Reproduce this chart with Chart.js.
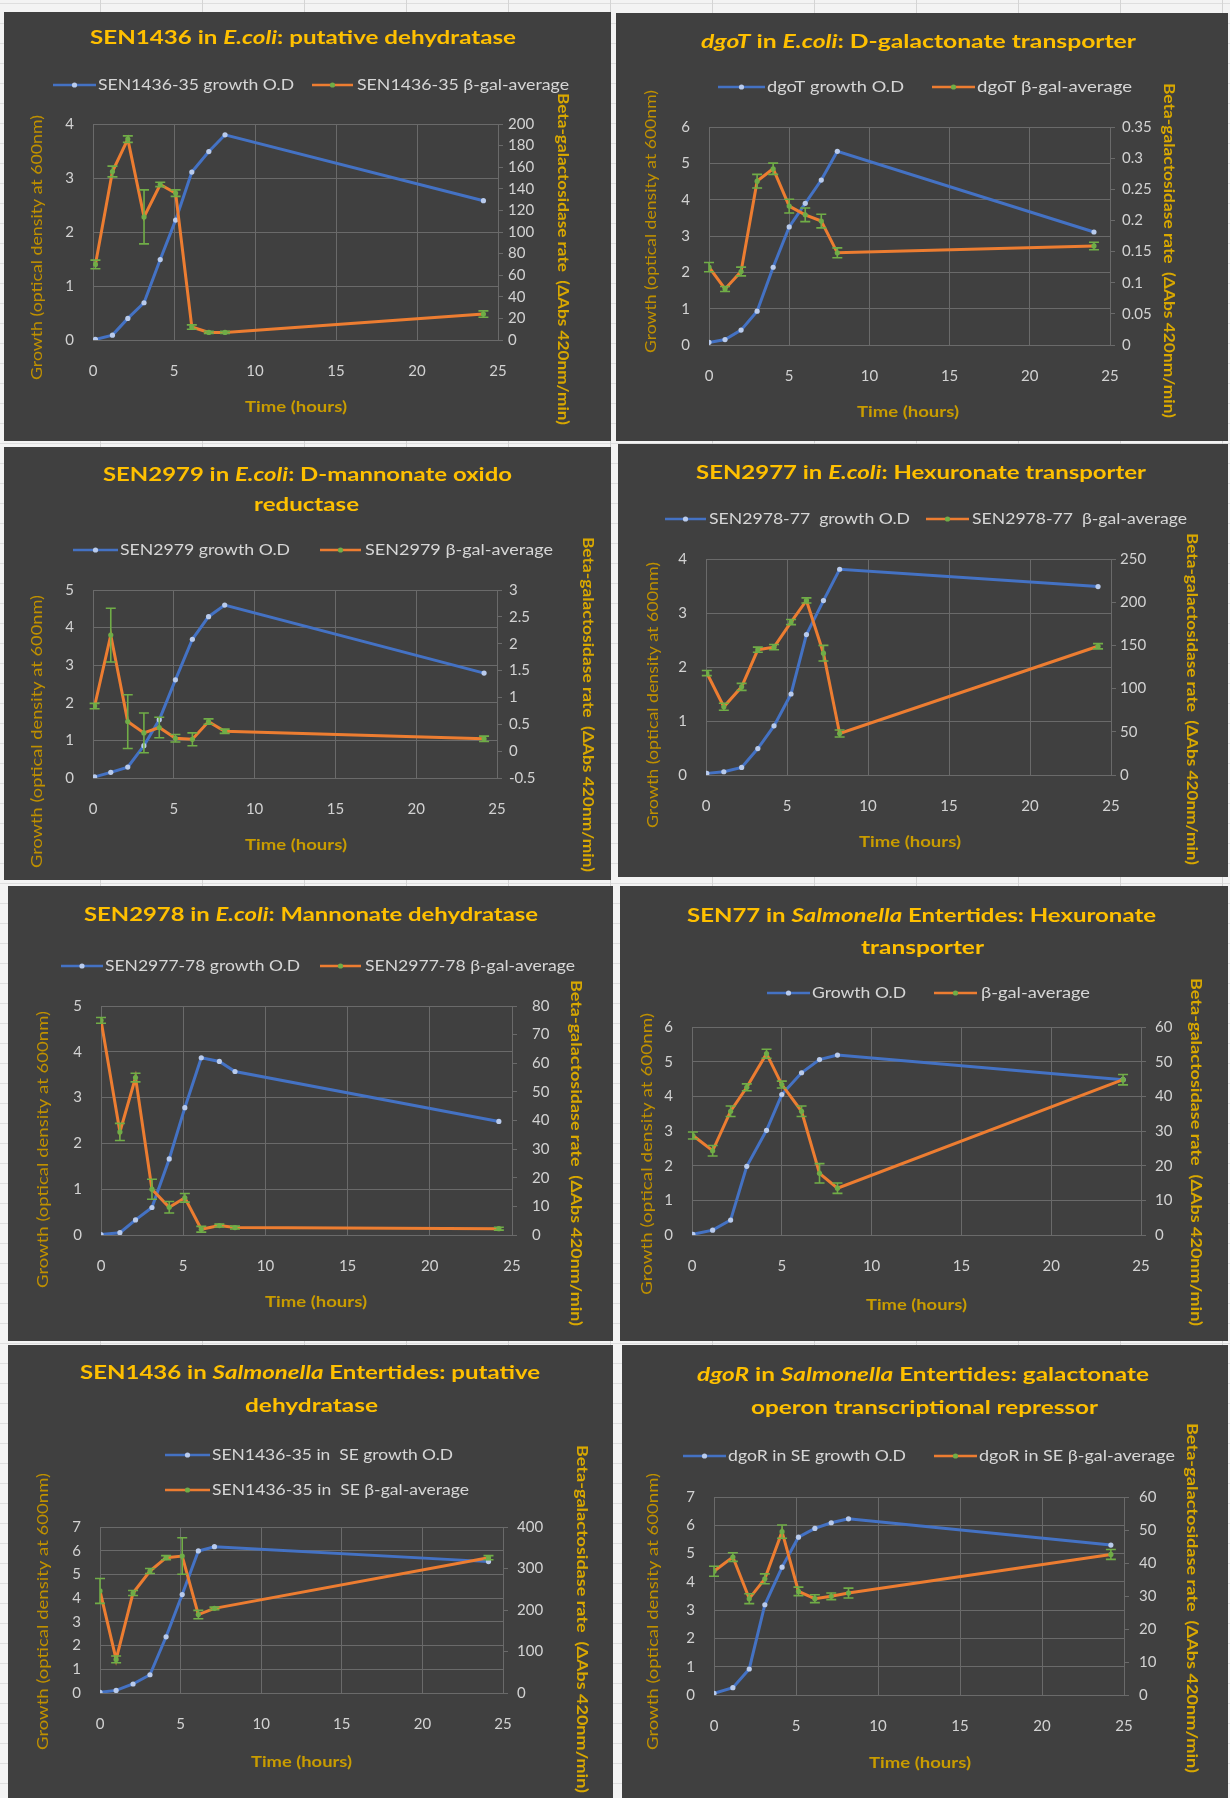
<!DOCTYPE html>
<html>
<head>
<meta charset="utf-8">
<title>Growth and β-galactosidase activity time courses</title>
<script src="https://cdn.jsdelivr.net/npm/chart.js@4.4.1/dist/chart.umd.min.js"></script>
<style>
  html, body { margin: 0; padding: 0; }
  body {
    width: 1230px; height: 1798px; position: relative; overflow: hidden;
    background-color: #f3f3f3;
    background-image:
      linear-gradient(to right, #d4d4d4 1px, transparent 1px),
      linear-gradient(to bottom, #dedede 1px, transparent 1px);
    background-size: 102px 100%, 100% 20px;
    background-position: 100px 0, 0 3px;
  }
  .panel { position: absolute; background: #404040; }
  .panel canvas { display: block; }
</style>
</head>
<body>
<script>
// ---------------- data ----------------
// Sampling times (hours) per strain
const p1Hours = [0.15, 1.2, 2.15, 3.15, 4.15, 5.1, 6.1, 7.15, 8.15, 24.1];
const p2Hours = [0, 1, 2, 3, 4, 5, 6, 7, 8, 24];
const p3Hours = [0.1, 1.1, 2.15, 3.15, 4.1, 5.1, 6.15, 7.15, 8.15, 24.2];
const p4Hours = [0.05, 1.1, 2.2, 3.2, 4.2, 5.25, 6.2, 7.25, 8.25, 24.2];
const p5Hours = [0, 1.15, 2.1, 3.1, 4.15, 5.1, 6.1, 7.2, 8.15, 24.2];
const p6Hours = [0.05, 1.15, 2.15, 3.05, 4.15, 5, 6.1, 7.1, 8.1, 24];
const p7Hours = [0, 1, 2.05, 3.1, 4.1, 5.1, 6.1, 7.1, 24.1];
const p8Hours = [0, 1.15, 2.15, 3.1, 4.15, 5.15, 6.15, 7.15, 8.2, 24.2];

// Growth, OD600
const p1Growth = [0.01, 0.09, 0.40, 0.69, 1.49, 2.22, 3.11, 3.49, 3.80, 2.58];
const p2Growth = [0.07, 0.15, 0.41, 0.93, 2.14, 3.25, 3.90, 4.54, 5.33, 3.11];
const p3Growth = [0.03, 0.15, 0.29, 0.86, 1.55, 2.61, 3.69, 4.29, 4.60, 2.79];
const p4Growth = [0.03, 0.06, 0.14, 0.49, 0.91, 1.50, 2.60, 3.23, 3.81, 3.49];
const p5Growth = [0.01, 0.05, 0.33, 0.60, 1.66, 2.78, 3.87, 3.79, 3.57, 2.48];
const p6Growth = [0.02, 0.14, 0.43, 1.98, 3.02, 4.05, 4.68, 5.06, 5.19, 4.48];
const p7Growth = [0.03, 0.11, 0.38, 0.77, 2.37, 4.15, 5.99, 6.17, 5.54];
const p8Growth = [0.06, 0.26, 0.92, 3.19, 4.52, 5.58, 5.89, 6.09, 6.23, 5.30];

// β-galactosidase rate averages and their error bars (ΔAbs 420nm/min)
const p1Gal = [70, 156, 186, 114, 144, 136, 12, 7, 7, 24];
const p1GalErr = [4, 5, 3, 25, 2, 3, 2, 1, 1, 3];
const p2Gal = [0.125, 0.090, 0.118, 0.263, 0.283, 0.223, 0.209, 0.199, 0.148, 0.159];
const p2GalErr = [0.0075, 0.004, 0.007, 0.011, 0.009, 0.011, 0.011, 0.011, 0.008, 0.006];
const p3Gal = [0.84, 2.16, 0.55, 0.34, 0.44, 0.24, 0.22, 0.55, 0.37, 0.23];
const p3GalErr = [0.05, 0.5, 0.5, 0.37, 0.19, 0.07, 0.12, 0.05, 0.04, 0.05];
const p4Gal = [118, 79, 102, 145, 148, 177, 202, 141, 48, 149];
const p4GalErr = [3, 4, 4, 3, 3, 3, 3, 9, 4, 3];
const p5Gal = [75, 36, 55, 16, 9.7, 13, 2.0, 3.3, 2.6, 2.2];
const p5GalErr = [1, 3, 1.5, 3.5, 2, 1.5, 1, 0.5, 0.5, 0.5];
const p6Gal = [28.7, 24.3, 35.7, 42.6, 52.3, 43.4, 35.7, 17.8, 13.5, 44.8];
const p6GalErr = [1, 1.5, 1.5, 1, 1.3, 1, 1.5, 2.8, 1.5, 1.5];
const p7Gal = [246, 81, 241, 294, 326, 330, 189, 204, 326];
const p7GalErr = [30, 8, 6, 6, 5, 44, 10, 3, 5];
const p8Gal = [37.5, 41.8, 29.2, 35.2, 49.5, 31.4, 29.2, 29.9, 30.9, 42.6];
const p8GalErr = [1.5, 1.3, 1.5, 1.5, 2, 1.3, 1.2, 1, 1.5, 1.5];

// Axis ranges [min, max, step]
const timeAxis = [0, 25, 5];
const p1Axes = { growth: [0, 4, 1], gal: [0, 200, 20] };
const p2Axes = { growth: [0, 6, 1], gal: [0, 0.35, 0.05] };
const p3Axes = { growth: [0, 5, 1], gal: [-0.5, 3, 0.5] };
const p4Axes = { growth: [0, 4, 1], gal: [0, 250, 50] };
const p5Axes = { growth: [0, 5, 1], gal: [0, 80, 10] };
const p6Axes = { growth: [0, 6, 1], gal: [0, 60, 10] };
const p7Axes = { growth: [0, 7, 1], gal: [0, 400, 100] };
const p8Axes = { growth: [0, 7, 1], gal: [0, 60, 10] };

// Titles (text between underscores is set in italics) and legend labels
const p1Title = ['SEN1436 in _E.coli_: putative dehydratase'];
const p2Title = ['_dgoT_ in _E.coli_: D-galactonate transporter'];
const p3Title = ['SEN2979 in _E.coli_: D-mannonate oxido', 'reductase'];
const p4Title = ['SEN2977 in _E.coli_: Hexuronate transporter'];
const p5Title = ['SEN2978 in _E.coli_: Mannonate dehydratase'];
const p6Title = ['SEN77 in _Salmonella_ Entertides: Hexuronate', 'transporter'];
const p7Title = ['SEN1436 in _Salmonella_ Entertides: putative', 'dehydratase'];
const p8Title = ['_dgoR_ in _Salmonella_ Entertides: galactonate', 'operon transcriptional repressor'];

const p1Legend = ['SEN1436-35 growth O.D', 'SEN1436-35 β-gal-average'];
const p2Legend = ['dgoT growth O.D', 'dgoT β-gal-average'];
const p3Legend = ['SEN2979 growth O.D', 'SEN2979 β-gal-average'];
const p4Legend = ['SEN2978-77  growth O.D', 'SEN2978-77  β-gal-average'];
const p5Legend = ['SEN2977-78 growth O.D', 'SEN2977-78 β-gal-average'];
const p6Legend = ['Growth O.D', 'β-gal-average'];
const p7Legend = ['SEN1436-35 in  SE growth O.D', 'SEN1436-35 in  SE β-gal-average'];
const p8Legend = ['dgoR in SE growth O.D', 'dgoR in SE β-gal-average'];

const xTitle = 'Time (hours)';
const leftTitle = 'Growth (optical density at 600nm)';
const rightTitle = 'Beta-galactosidase rate  (ΔAbs 420nm/min)';

// ---------------- page layout (page pixels) ----------------
const layouts = [
  { box: [4, 12, 611, 441], plot: [93, 124, 498, 340], rpad: 10,
    titleLines: [{ y: 38, x0: 90, x1: 516 }],
    legend: [{ y: 85, l: [53, 96], t: [98, 294] }, { y: 85, l: [312, 353], t: [357, 569] }],
    leftT: { x: 37, y0: 115, y1: 380 }, rightT: { x: 563, y0: 93, y1: 425 }, xT: { y: 407, x0: 245, x1: 347 } },
  { box: [616, 13, 1228, 441], plot: [709, 127, 1110, 345], rpad: 12,
    titleLines: [{ y: 42, x0: 701, x1: 1136 }],
    legend: [{ y: 87, l: [718, 765], t: [767, 904] }, { y: 87, l: [932, 975], t: [977, 1132] }],
    leftT: { x: 651, y0: 90, y1: 353 }, rightT: { x: 1169, y0: 83, y1: 418 }, xT: { y: 412, x0: 857, x1: 959 } },
  { box: [4, 447, 611, 880], plot: [93, 590, 497, 778], rpad: 12,
    titleLines: [{ y: 475, x0: 103, x1: 512 }, { y: 505, x0: 254, x1: 359 }],
    legend: [{ y: 550, l: [73, 118], t: [120, 290] }, { y: 550, l: [320, 361], t: [365, 553] }],
    leftT: { x: 37, y0: 595, y1: 868 }, rightT: { x: 588, y0: 537, y1: 872 }, xT: { y: 845, x0: 245, x1: 347 } },
  { box: [618, 444, 1228, 877], plot: [706, 559, 1111, 775], rpad: 9,
    titleLines: [{ y: 473, x0: 696, x1: 1146 }],
    legend: [{ y: 519, l: [665, 706], t: [709, 910] }, { y: 519, l: [926, 969], t: [972, 1187] }],
    leftT: { x: 653, y0: 562, y1: 828 }, rightT: { x: 1192, y0: 533, y1: 865 }, xT: { y: 842, x0: 859, x1: 961 } },
  { box: [8, 886, 613, 1341], plot: [101, 1006, 512, 1235], rpad: 20,
    titleLines: [{ y: 915, x0: 84, x1: 538 }],
    legend: [{ y: 966, l: [61, 103], t: [105, 300] }, { y: 966, l: [320, 361], t: [365, 575] }],
    leftT: { x: 43, y0: 1011, y1: 1288 }, rightT: { x: 576, y0: 980, y1: 1326 }, xT: { y: 1302, x0: 265, x1: 367 } },
  { box: [620, 886, 1228, 1341], plot: [692, 1027, 1141, 1235], rpad: 14,
    titleLines: [{ y: 916, x0: 687, x1: 1156 }, { y: 948, x0: 861, x1: 984 }],
    legend: [{ y: 993, l: [767, 810], t: [812, 906] }, { y: 993, l: [934, 977], t: [981, 1090] }],
    leftT: { x: 647, y0: 1013, y1: 1295 }, rightT: { x: 1196, y0: 978, y1: 1326 }, xT: { y: 1305, x0: 866, x1: 967 } },
  { box: [8, 1345, 613, 1798], plot: [100, 1527, 503, 1693], rpad: 14,
    titleLines: [{ y: 1373, x0: 80, x1: 540 }, { y: 1406, x0: 245, x1: 378 }],
    legend: [{ y: 1455, l: [165, 210], t: [212, 453] }, { y: 1490, l: [165, 210], t: [212, 469] }],
    leftT: { x: 43, y0: 1473, y1: 1750 }, rightT: { x: 582, y0: 1445, y1: 1793 }, xT: { y: 1762, x0: 251, x1: 352 } },
  { box: [622, 1345, 1228, 1798], plot: [714, 1497, 1124, 1695], rpad: 15,
    titleLines: [{ y: 1375, x0: 697, x1: 1149 }, { y: 1408, x0: 751, x1: 1098 }],
    legend: [{ y: 1456, l: [683, 726], t: [728, 906] }, { y: 1456, l: [934, 977], t: [979, 1175] }],
    leftT: { x: 653, y0: 1473, y1: 1750 }, rightT: { x: 1192, y0: 1423, y1: 1773 }, xT: { y: 1763, x0: 869, x1: 971 } }
];

const series = [
  { hours: p1Hours, growth: p1Growth, gal: p1Gal, err: p1GalErr, axes: p1Axes, title: p1Title, legend: p1Legend },
  { hours: p2Hours, growth: p2Growth, gal: p2Gal, err: p2GalErr, axes: p2Axes, title: p2Title, legend: p2Legend },
  { hours: p3Hours, growth: p3Growth, gal: p3Gal, err: p3GalErr, axes: p3Axes, title: p3Title, legend: p3Legend },
  { hours: p4Hours, growth: p4Growth, gal: p4Gal, err: p4GalErr, axes: p4Axes, title: p4Title, legend: p4Legend },
  { hours: p5Hours, growth: p5Growth, gal: p5Gal, err: p5GalErr, axes: p5Axes, title: p5Title, legend: p5Legend },
  { hours: p6Hours, growth: p6Growth, gal: p6Gal, err: p6GalErr, axes: p6Axes, title: p6Title, legend: p6Legend },
  { hours: p7Hours, growth: p7Growth, gal: p7Gal, err: p7GalErr, axes: p7Axes, title: p7Title, legend: p7Legend },
  { hours: p8Hours, growth: p8Growth, gal: p8Gal, err: p8GalErr, axes: p8Axes, title: p8Title, legend: p8Legend }
];

// ---------------- styles ----------------
const BLUE = '#4472C4';
const BLUE_MARK = '#b9cbec';
const ORANGE = '#ED7D31';
const GREEN = '#70AD47';
const GRID = '#6a6a6a';
const TICK = '#d2d2d2';
const FAMILY = 'Lato, "Open Sans", "DejaVu Sans", sans-serif';

// ---------------- helpers ----------------
// Plain number labels without trailing zeros (0.3, 0.35, 2.5, -0.5)
const plainNumber = v => String(parseFloat(Number(v).toFixed(4)));

// Splits "a _b_ c" into plain / italic runs
function richRuns(str) {
  return str.split('_').map((t, i) => ({ t, it: i % 2 === 1 })).filter(r => r.t.length);
}

// Draws a (possibly rich) string centred at cx,cy, stretched horizontally to a given length
function fitText(ctx, str, font, color, cx, cy, len, rot) {
  const runs = richRuns(str);
  let w = 0;
  runs.forEach(r => { ctx.font = (r.it ? 'italic ' : '') + font; r.w = ctx.measureText(r.t).width; w += r.w; });
  ctx.save();
  ctx.translate(cx, cy);
  if (rot) ctx.rotate(rot);
  ctx.scale(len ? len / w : 1, 1);
  ctx.fillStyle = color;
  ctx.textBaseline = 'middle';
  ctx.textAlign = 'left';
  let x = -w / 2;
  runs.forEach(r => { ctx.font = (r.it ? 'italic ' : '') + font; ctx.fillText(r.t, x, 0); x += r.w; });
  ctx.restore();
}

// Vertical error bars with caps on any dataset carrying an errorBars array
const errorBarPlugin = {
  id: 'errorBars',
  afterDatasetDraw(chart, args) {
    const ds = chart.data.datasets[args.index];
    if (!ds.errorBars) return;
    const ys = chart.scales[ds.yAxisID];
    const ctx = chart.ctx;
    ctx.save();
    ctx.strokeStyle = GREEN;
    ctx.lineWidth = 1.6;
    args.meta.data.forEach((pt, i) => {
      const v = ds.data[i].y, e = ds.errorBars[i];
      const yTop = ys.getPixelForValue(v + e), yBot = ys.getPixelForValue(v - e);
      ctx.beginPath();
      ctx.moveTo(pt.x, yTop); ctx.lineTo(pt.x, yBot);
      ctx.moveTo(pt.x - 5, yTop); ctx.lineTo(pt.x + 5, yTop);
      ctx.moveTo(pt.x - 5, yBot); ctx.lineTo(pt.x + 5, yBot);
      ctx.stroke();
    });
    ctx.restore();
  }
};

// Chart title, legend and axis titles
function panelTextPlugin(lay, s) {
  const ox = lay.box[0], oy = lay.box[1];
  return {
    id: 'panelText',
    afterDraw(chart) {
      const ctx = chart.ctx;
      s.title.forEach((line, i) => {
        const tl = lay.titleLines[i];
        fitText(ctx, line, 'bold 19px ' + FAMILY, '#FFC000', (tl.x0 + tl.x1) / 2 - ox, tl.y - oy, tl.x1 - tl.x0, 0);
      });
      lay.legend.forEach((lg, i) => {
        const y = lg.y - oy;
        const col = i === 0 ? BLUE : ORANGE;
        const mk = i === 0 ? BLUE_MARK : GREEN;
        ctx.save();
        ctx.strokeStyle = col; ctx.lineWidth = 2.5;
        ctx.beginPath(); ctx.moveTo(lg.l[0] - ox, y); ctx.lineTo(lg.l[1] - ox, y); ctx.stroke();
        ctx.fillStyle = mk;
        ctx.beginPath(); ctx.arc((lg.l[0] + lg.l[1]) / 2 - ox, y, 2.6, 0, Math.PI * 2); ctx.fill();
        ctx.restore();
        fitText(ctx, s.legend[i], '15px ' + FAMILY, '#d6d6d6', (lg.t[0] + lg.t[1]) / 2 - ox, y, lg.t[1] - lg.t[0], 0);
      });
      fitText(ctx, leftTitle, '15px ' + FAMILY, '#BF9000', lay.leftT.x - ox, (lay.leftT.y0 + lay.leftT.y1) / 2 - oy,
        lay.leftT.y1 - lay.leftT.y0, -Math.PI / 2);
      fitText(ctx, rightTitle, 'bold 15px ' + FAMILY, '#D9A800', lay.rightT.x - ox, (lay.rightT.y0 + lay.rightT.y1) / 2 - oy,
        lay.rightT.y1 - lay.rightT.y0, Math.PI / 2);
      fitText(ctx, xTitle, 'bold 16px ' + FAMILY, '#C99C00', (lay.xT.x0 + lay.xT.x1) / 2 - ox, lay.xT.y - oy,
        lay.xT.x1 - lay.xT.x0, 0);
    }
  };
}

function buildPanel(lay, s) {
  const [bl, bt, br, bb] = lay.box;
  const [pl, pt, pr, pb] = lay.plot;
  const W = br - bl, H = bb - bt;
  const div = document.createElement('div');
  div.className = 'panel';
  Object.assign(div.style, { left: bl + 'px', top: bt + 'px', width: W + 'px', height: H + 'px' });
  const canvas = document.createElement('canvas');
  canvas.width = W; canvas.height = H;
  canvas.style.width = W + 'px'; canvas.style.height = H + 'px';
  div.appendChild(canvas);
  document.body.appendChild(div);

  const tickFont = { family: FAMILY, size: 15 };
  new Chart(canvas, {
    type: 'line',
    data: {
      datasets: [
        {
          label: s.legend[0], yAxisID: 'yL', order: 1,
          data: s.hours.map((h, i) => ({ x: h, y: s.growth[i] })),
          borderColor: BLUE, borderWidth: 3, tension: 0,
          pointRadius: 2.6, pointBackgroundColor: BLUE_MARK, pointBorderColor: BLUE_MARK, pointBorderWidth: 0
        },
        {
          label: s.legend[1], yAxisID: 'yR', order: 0, errorBars: s.err,
          data: s.hours.map((h, i) => ({ x: h, y: s.gal[i] })),
          borderColor: ORANGE, borderWidth: 3, tension: 0,
          pointRadius: 2.6, pointBackgroundColor: GREEN, pointBorderColor: GREEN, pointBorderWidth: 0
        }
      ]
    },
    options: {
      responsive: false, animation: false, devicePixelRatio: 1,
      layout: { padding: { top: pt - bt, left: 0, right: 0, bottom: 0 } },
      plugins: { legend: { display: false }, tooltip: { enabled: false }, title: { display: false } },
      scales: {
        x: {
          type: 'linear', min: timeAxis[0], max: timeAxis[1],
          ticks: { stepSize: timeAxis[2], color: TICK, font: tickFont, padding: 22, callback: plainNumber },
          grid: { color: GRID, drawTicks: false },
          border: { display: false },
          afterFit: sc => { sc.height = bb - pb; }
        },
        yL: {
          type: 'linear', position: 'left',
          min: s.axes.growth[0], max: s.axes.growth[1],
          ticks: { stepSize: s.axes.growth[2], color: TICK, font: tickFont, padding: 19, callback: plainNumber },
          grid: { color: GRID, drawTicks: false },
          border: { display: false },
          afterFit: sc => { sc.width = pl - bl; }
        },
        yR: {
          type: 'linear', position: 'right',
          min: s.axes.gal[0], max: s.axes.gal[1],
          ticks: { stepSize: s.axes.gal[2], color: TICK, font: tickFont, padding: lay.rpad - 5, callback: plainNumber },
          grid: { drawOnChartArea: false, drawTicks: true, tickLength: 5, color: GRID },
          border: { display: true, color: GRID },
          afterFit: sc => { sc.width = br - pr; }
        }
      }
    },
    plugins: [errorBarPlugin, panelTextPlugin(lay, s)]
  });
}

layouts.forEach((lay, i) => buildPanel(lay, series[i]));
</script>
</body>
</html>
